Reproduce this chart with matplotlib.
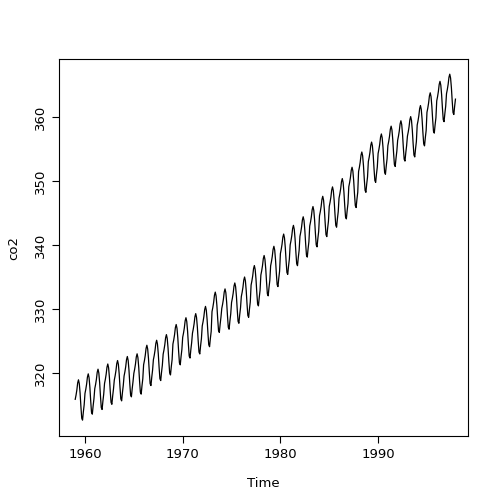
import matplotlib
matplotlib.use("Agg")
import matplotlib.pyplot as plt
import numpy as np

years = list(range(1959, 1998))
annual_mean = [315.98, 316.91, 317.64, 318.45, 318.99, 319.62, 320.04, 321.38, 322.16,
               323.04, 324.62, 325.68, 326.32, 327.45, 329.68, 330.18, 331.11, 332.04,
               333.83, 335.40, 336.84, 338.75, 340.11, 341.45, 343.05, 344.65, 346.12,
               347.42, 349.19, 351.57, 353.12, 354.39, 355.61, 356.45, 357.10, 358.83,
               360.82, 362.61, 363.73]
month_offset = [-0.05, 0.6, 1.4, 2.5, 3.0, 2.4, 0.9, -1.2, -3.0, -3.3, -2.0, -0.9]

t = []
co2 = []
for i, y in enumerate(years):
    for m in range(12):
        t.append(y + m / 12)
        co2.append(annual_mean[i] + month_offset[m])

fig = plt.figure(figsize=(5.04, 5.04), dpi=100)
ax = fig.add_axes([59/504, 68/504, 409/504, 377/504])
ax.plot(t, co2, color="black", lw=0.9)
ax.set_xlim(1957.34, 1999.2)
ax.set_ylim(310.2, 369.1)
ax.set_xticks([1960, 1970, 1980, 1990])
ax.set_yticks([320, 330, 340, 350, 360])
for lab in ax.get_yticklabels():
    lab.set_rotation(90)
    lab.set_va("center")
ax.tick_params(labelsize=9.5, length=5)
ax.set_xlabel("Time", fontsize=9.5, labelpad=12)
ax.set_ylabel("co2", fontsize=9.5, labelpad=10)
fig.savefig("out.png", dpi=100)
